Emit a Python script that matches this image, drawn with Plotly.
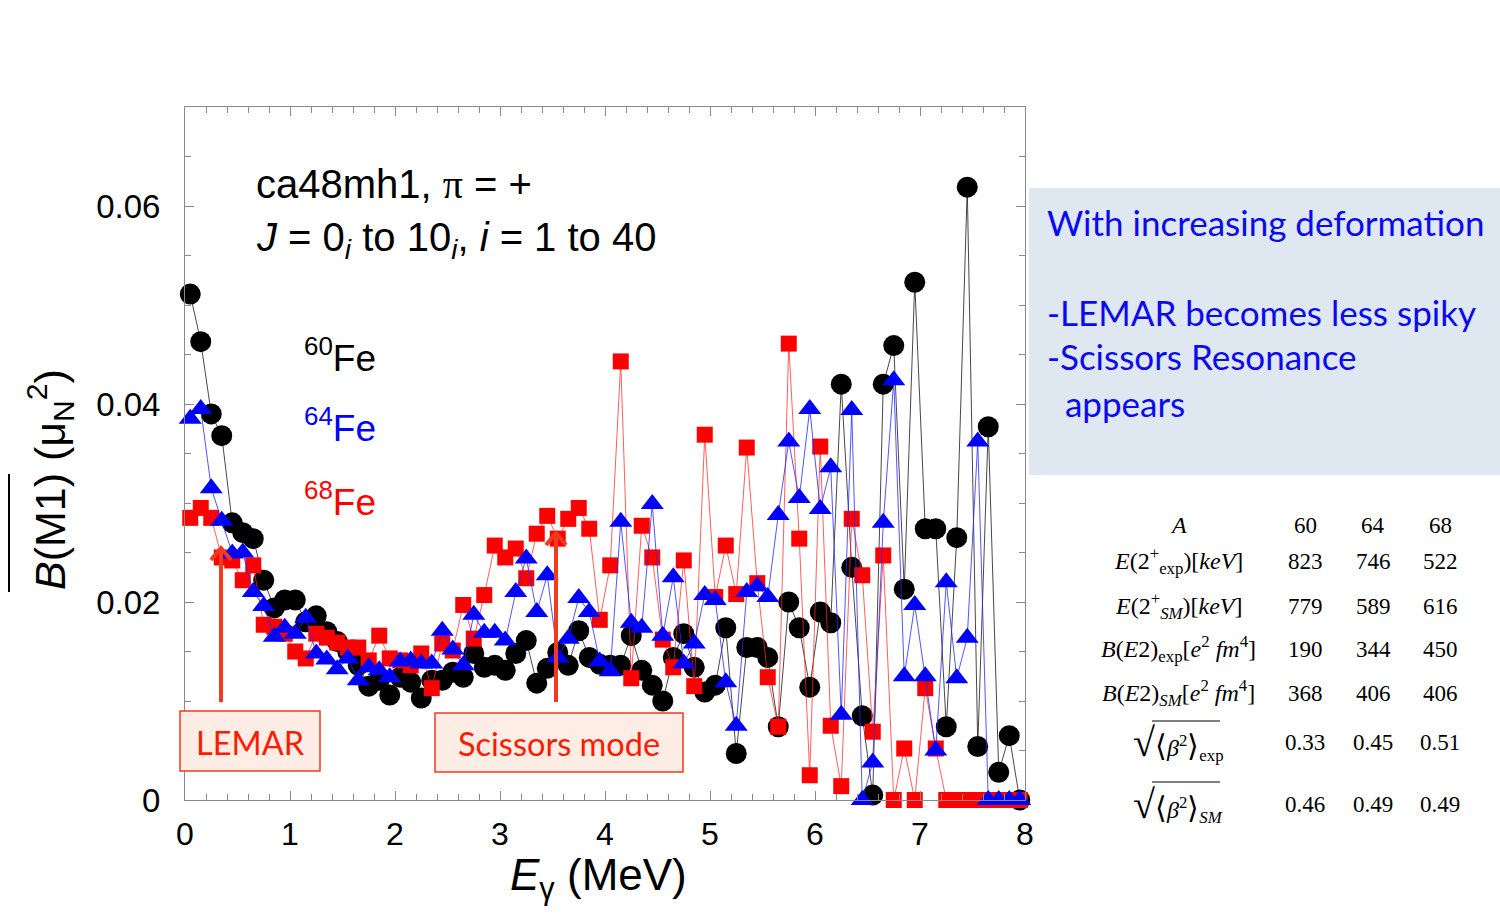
import plotly.graph_objects as go

# ---------------- data ----------------
energy = [0.05, 0.15, 0.25, 0.35, 0.45, 0.55, 0.65, 0.75, 0.85, 0.95,
          1.05, 1.15, 1.25, 1.35, 1.45, 1.55, 1.65, 1.75, 1.85, 1.95,
          2.05, 2.15, 2.25, 2.35, 2.45, 2.55, 2.65, 2.75, 2.85, 2.95,
          3.05, 3.15, 3.25, 3.35, 3.45, 3.55, 3.65, 3.75, 3.85, 3.95,
          4.05, 4.15, 4.25, 4.35, 4.45, 4.55, 4.65, 4.75, 4.85, 4.95,
          5.05, 5.15, 5.25, 5.35, 5.45, 5.55, 5.65, 5.75, 5.85, 5.95,
          6.05, 6.15, 6.25, 6.35, 6.45, 6.55, 6.65, 6.75, 6.85, 6.95,
          7.05, 7.15, 7.25, 7.35, 7.45, 7.55, 7.65, 7.75, 7.85, 7.95]

fe60 = [0.0511, 0.0463, 0.0390, 0.0368, 0.0280, 0.0270, 0.0264, 0.0222, 0.0194, 0.0202,
        0.0202, 0.0180, 0.0186, 0.0170, 0.0160, 0.0150, 0.0136, 0.0115, 0.0121, 0.0106,
        0.0124, 0.0119, 0.0103, 0.0121, 0.0121, 0.0129, 0.0124, 0.0148, 0.0134, 0.0136,
        0.0131, 0.0148, 0.0161, 0.0118, 0.0133, 0.0149, 0.0136, 0.0171, 0.0144, 0.0137,
        0.0136, 0.0136, 0.0166, 0.0131, 0.0116, 0.0100, 0.0144, 0.0168, 0.0134, 0.0109,
        0.0116, 0.0174, 0.0047, 0.0154, 0.0154, 0.0144, 0.0074, 0.0200, 0.0174, 0.0114,
        0.0190, 0.0179, 0.0420, 0.0235, 0.0085, 0.0005, 0.0420, 0.0459, 0.0213, 0.0523,
        0.0274, 0.0274, 0.0074, 0.0265, 0.0619, 0.0054, 0.0377, 0.0028, 0.0065, 0.0000]

fe64 = [0.0385, 0.0395, 0.0315, 0.0282, 0.0249, 0.0250, 0.0210, 0.0196, 0.0165, 0.0174,
        0.0168, 0.0184, 0.0148, 0.0142, 0.0132, 0.0143, 0.0121, 0.0134, 0.0131, 0.0124,
        0.0140, 0.0141, 0.0138, 0.0138, 0.0171, 0.0152, 0.0136, 0.0187, 0.0169, 0.0169,
        0.0161, 0.0210, 0.0244, 0.0190, 0.0227, 0.0144, 0.0163, 0.0204, 0.0190, 0.0140,
        0.0130, 0.0281, 0.0179, 0.0174, 0.0299, 0.0166, 0.0225, 0.0138, 0.0158, 0.0207,
        0.0202, 0.0119, 0.0075, 0.0210, 0.0216, 0.0205, 0.0288, 0.0362, 0.0305, 0.0395,
        0.0294, 0.0336, 0.0086, 0.0394, 0.0000, 0.0038, 0.0280, 0.0424, 0.0125, 0.0197,
        0.0125, 0.0050, 0.0220, 0.0123, 0.0164, 0.0362, 0.0000, 0.0000, 0.0000, 0.0000]

fe68 = [0.0285, 0.0295, 0.0285, 0.0245, 0.0242, 0.0222, 0.0237, 0.0177, 0.0175, 0.0168,
        0.0150, 0.0143, 0.0168, 0.0164, 0.0159, 0.0154, 0.0154, 0.0141, 0.0166, 0.0143,
        0.0141, 0.0136, 0.0148, 0.0113, 0.0158, 0.0151, 0.0197, 0.0163, 0.0207, 0.0257,
        0.0245, 0.0254, 0.0224, 0.0269, 0.0287, 0.0264, 0.0284, 0.0295, 0.0274, 0.0182,
        0.0237, 0.0443, 0.0123, 0.0277, 0.0245, 0.0162, 0.0134, 0.0242, 0.0115, 0.0369,
        0.0205, 0.0257, 0.0208, 0.0356, 0.0219, 0.0124, 0.0074, 0.0461, 0.0264, 0.0025,
        0.0357, 0.0075, 0.0014, 0.0284, 0.0227, 0.0069, 0.0247, 0.0000, 0.0052, 0.0000,
        0.0113, 0.0052, 0.0000, 0.0000, 0.0000, 0.0000, 0.0000, 0.0000, 0.0000, 0.0000]

table_labels = [
    "<i>A</i>",
    "<i>E</i>(2<sup>+</sup><sub>exp</sub>)[<i>keV</i>]",
    "<i>E</i>(2<sup>+</sup><sub><i>SM</i></sub>)[<i>keV</i>]",
    "<i>B</i>(<i>E</i>2)<sub>exp</sub>[<i>e</i><sup>2</sup> <i>fm</i><sup>4</sup>]",
    "<i>B</i>(<i>E</i>2)<sub><i>SM</i></sub>[<i>e</i><sup>2</sup> <i>fm</i><sup>4</sup>]",
    "<span style='font-size:40px'>√</span><span style='font-size:30px'>⟨</span><i>β</i><sup>2</sup><span style='font-size:30px'>⟩</span><sub>exp</sub>",
    "<span style='font-size:40px'>√</span><span style='font-size:30px'>⟨</span><i>β</i><sup>2</sup><span style='font-size:30px'>⟩</span><sub><i>SM</i></sub>",
]
table_60 = ["60", "823", "779", "190", "368", "0.33", "0.46"]
table_64 = ["64", "746", "589", "344", "406", "0.45", "0.49"]
table_68 = ["68", "522", "616", "450", "406", "0.51", "0.49"]

note_lines = ["With increasing deformation", "-LEMAR becomes less spiky",
              "-Scissors Resonance", "\u00a0\u00a0appears"]

# ---------------- layout helpers (pixel -> paper) ----------------
L, R, T, B = 185, 1025, 107, 800
W, H = 1500, 919


def px(xp):
    return (xp - L) / (R - L)


def py(yp):
    return (B - yp) / (B - T)


RED = "#ff1a00"
ARROW = "#f23a1e"
BLUE_TXT = "#0a0aee"

fig = go.Figure()
fig.add_trace(go.Scatter(
    x=energy, y=fe60, mode="lines+markers", name="60Fe",
    line=dict(color="rgba(40,40,40,0.85)", width=1),
    marker=dict(symbol="circle", size=21, color="black"),
    cliponaxis=False))
fig.add_trace(go.Scatter(
    x=energy, y=fe68, mode="lines+markers", name="68Fe",
    line=dict(color="rgba(255,40,40,0.75)", width=1),
    marker=dict(symbol="square", size=16, color="#ff0000"),
    cliponaxis=False))
fig.add_trace(go.Scatter(
    x=energy, y=fe64, mode="lines+markers", name="64Fe",
    line=dict(color="rgba(40,40,255,0.8)", width=1),
    marker=dict(symbol="triangle-up", size=20, color="#0000ff"),
    cliponaxis=False))

axis_gray = "#8a8a8a"
fig.update_layout(
    width=W, height=H,
    margin=dict(l=L, r=W - R, t=T, b=H - B),
    paper_bgcolor="white", plot_bgcolor="white",
    showlegend=False,
    font=dict(family="Liberation Sans, Arial, sans-serif", color="black"),
)
fig.update_xaxes(
    range=[0, 8], dtick=1, tick0=0,
    ticks="inside", ticklen=9, tickcolor=axis_gray, tickwidth=1,
    showline=True, linecolor=axis_gray, linewidth=1, mirror="allticks",
    showgrid=False, zeroline=False,
    minor=dict(dtick=0.2, ticks="inside", ticklen=6, tickcolor=axis_gray, showgrid=False),
    tickfont=dict(size=32, color="black"), ticklabelstandoff=6,
)
fig.update_yaxes(
    range=[0, 0.07], dtick=0.02, tick0=0,
    ticks="inside", ticklen=9, tickcolor=axis_gray, tickwidth=1,
    showline=True, linecolor=axis_gray, linewidth=1, mirror="allticks",
    showgrid=False, zeroline=False,
    minor=dict(dtick=0.005, ticks="inside", ticklen=6, tickcolor=axis_gray, showgrid=False),
    tickfont=dict(size=33, color="black"), ticklabelstandoff=17,
)

ann = []
shapes = []


def text(xp, yp, s, size, color="black", xanchor="left", family=None, angle=0):
    d = dict(x=px(xp), y=py(yp), xref="paper", yref="paper", text=s, showarrow=False,
             xanchor=xanchor, yanchor="middle", textangle=angle,
             font=dict(size=size, color=color))
    if family:
        d["font"]["family"] = family
    ann.append(d)


# axis titles
text(50, 480, "<i>B</i>(M1) (μ<sub>N</sub><sup>2</sup>)", 43, xanchor="center", angle=-90)
shapes.append(dict(type="line", xref="paper", yref="paper",
                   x0=px(9), x1=px(9), y0=py(592), y1=py(474),
                   line=dict(color="black", width=2)))
text(598, 878, "<i>E</i><sub>γ</sub> (MeV)", 44, xanchor="center")

# in-plot texts
text(254, 185, "ca48mh1, <span style='font-family:Liberation Serif'>π</span> = +", 40)
text(254, 240, "<i>J</i> = 0<sub><i>i</i></sub> to 10<sub><i>i</i></sub>, <i>i</i> = 1 to 40", 40)
text(302, 355, "<sup>60</sup>Fe", 37, "black")
text(302, 425, "<sup>64</sup>Fe", 37, "#0000ff")
text(302, 499, "<sup>68</sup>Fe", 37, "#ff0000")

# LEMAR / Scissors boxes
for (x0, y0, x1, y1, label) in [(180, 711, 320, 771, "LEMAR"), (435, 713, 683, 772, "Scissors mode")]:
    shapes.append(dict(type="rect", xref="paper", yref="paper",
                       x0=px(x0), x1=px(x1), y0=py(y1), y1=py(y0),
                       fillcolor="#fdede4", line=dict(color=ARROW, width=1.5)))
    text((x0 + x1) / 2, (y0 + y1) / 2 + 1, label, 32.5, RED, xanchor="center", family="Lato")

# arrows
for (xa, ytail, ytip) in [(221, 702, 548), (556, 702, 533)]:
    shapes.append(dict(type="line", xref="paper", yref="paper",
                       x0=px(xa), x1=px(xa), y0=py(ytail), y1=py(ytip + 2),
                       line=dict(color=ARROW, width=4)))
    path = "M{},{} L{},{} L{},{}".format(px(xa - 10), py(ytip + 12), px(xa), py(ytip),
                                         px(xa + 10), py(ytip + 12))
    shapes.append(dict(type="path", xref="paper", yref="paper", path=path,
                       line=dict(color=ARROW, width=4)))

# right note box
shapes.append(dict(type="rect", xref="paper", yref="paper",
                   x0=px(1029), x1=px(1500), y0=py(475), y1=py(188),
                   fillcolor="#dfe7f1", line=dict(width=0)))
for yp, s in zip([222, 312, 356, 403], note_lines):
    text(1045, yp, s, 35, BLUE_TXT, family="Lato")

# table
row_y = [525, 561, 606, 649, 693, 742, 804]
for i, yp in enumerate(row_y):
    text(1178, yp, table_labels[i], 24, family="Liberation Serif", xanchor="center")
    text(1305, yp, table_60[i], 23, family="Liberation Serif", xanchor="center")
    text(1373, yp, table_64[i], 23, family="Liberation Serif", xanchor="center")
    text(1440, yp, table_68[i], 23, family="Liberation Serif", xanchor="center")
for yv in [721, 782]:
    shapes.append(dict(type="line", xref="paper", yref="paper",
                       x0=px(1152), x1=px(1220), y0=py(yv), y1=py(yv),
                       line=dict(color="black", width=1)))

fig.update_layout(annotations=ann, shapes=shapes)
fig.write_html("out.html")
